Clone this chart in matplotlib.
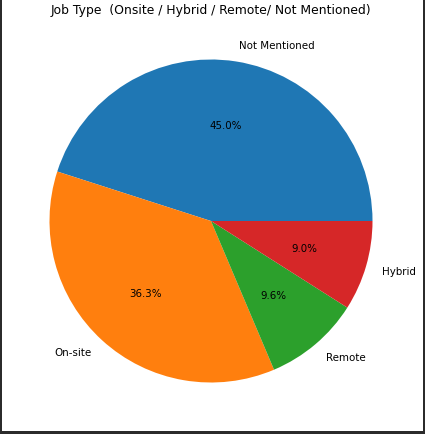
"Job type pie chart"

import matplotlib.pyplot as plt
from matplotlib.patches import Rectangle

labels = ["Not Mentioned", "On-site", "Remote", "Hybrid"]
shares = [45.0, 36.3, 9.6, 9.0]

W, H = 425, 435
fig = plt.figure(figsize=(W / 100, H / 100), dpi=100)

# Pie centre ~ (211, 222) px from top-left, radius ~161 px
radius = 161.5
cx, cy = 211, H - 222
half = 1.25 * radius
ax = fig.add_axes([(cx - half) / W, (cy - half) / H, 2 * half / W, 2 * half / H])
ax.pie(
    shares,
    labels=labels,
    autopct="%1.1f%%",
    textprops={"fontsize": 7.4},
)
ax.set_xlim(-1.25, 1.25)
ax.set_ylim(-1.25, 1.25)

fig.text(
    210.5 / W, 1 - 10.5 / H,
    "Job Type  (Onsite / Hybrid / Remote/ Not Mentioned)",
    ha="center", va="center", fontsize=8.95,
)

# Dark screenshot frame: thin left edge, right edge, bottom band
dark = "#2b2b2b"
for x, y, w, h in [(0, 0, 1.5, H), (W - 2, 0, 2, H), (0, 0, W, 3)]:
    fig.patches.append(
        Rectangle((x / W, y / H), w / W, h / H, transform=fig.transFigure,
                  facecolor=dark, edgecolor="none", zorder=10)
    )

fig.savefig("out.png", dpi=100)
